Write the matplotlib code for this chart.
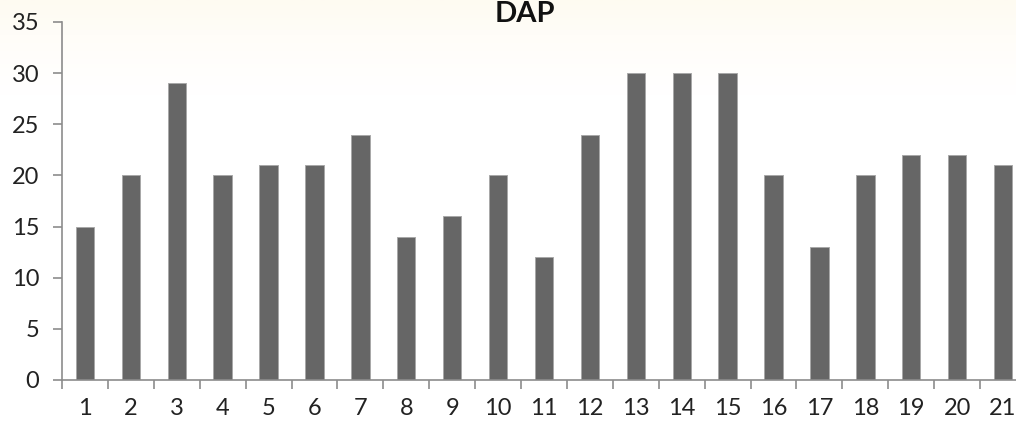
import numpy as np
import matplotlib
matplotlib.use("Agg")
import matplotlib.pyplot as plt
from matplotlib.colors import LinearSegmentedColormap

# DAP per sample
samples = [str(i) for i in range(1, 22)]
dap = [15, 20, 29, 20, 21, 21, 24, 14, 16, 20, 12, 24, 30, 30, 30, 20, 13, 20, 22, 22, 21]
y_ticks = [0, 5, 10, 15, 20, 25, 30, 35]

plt.rcParams['font.family'] = ['Lato', 'DejaVu Sans']

W, H, DPI = 1016, 421, 100
fig = plt.figure(figsize=(W / DPI, H / DPI), dpi=DPI)

# faint warm wash along the top edge
bg = fig.add_axes([0, 0, 1, 1], zorder=-1)
grad = np.linspace(0, 1, 256).reshape(-1, 1)
cmap = LinearSegmentedColormap.from_list(
    "wash", [(0.0, "#fefbf1"), (0.08, "#fffdf8"), (0.22, "#ffffff"), (1.0, "#ffffff")])
bg.imshow(grad, aspect="auto", cmap=cmap, extent=[0, 1, 0, 1], origin="upper")
bg.set_axis_off()

left_px, right_px, top_px, bottom_px = 62, 1026, 22, 380
ax = fig.add_axes([left_px / W, 1 - bottom_px / H,
                   (right_px - left_px) / W, (bottom_px - top_px) / H])
ax.set_facecolor("none")

x = np.arange(len(samples))
ax.bar(x, dap, width=0.4, color="#666666", edgecolor="#a8a8a8", linewidth=0.7, zorder=2)

ax.set_xlim(-0.5, len(samples) - 0.5)
ax.set_ylim(0, 35)

for s in ("top", "right"):
    ax.spines[s].set_visible(False)
for s in ("left", "bottom"):
    ax.spines[s].set_color("#8c8c8c")
    ax.spines[s].set_linewidth(1.2)

ax.set_yticks(y_ticks)
ax.set_yticklabels([str(v) for v in y_ticks])
ax.tick_params(axis="y", direction="out", length=6.5, width=1.2, color="#8c8c8c",
               pad=10, labelsize=17, labelcolor="#222222")

ax.set_xticks(np.arange(-0.5, len(samples), 1.0))
ax.set_xticklabels([])
ax.tick_params(axis="x", which="major", direction="out", length=6.5, width=1.2, color="#8c8c8c")
ax.set_xticks(x, minor=True)
ax.set_xticklabels(samples, minor=True)
ax.tick_params(axis="x", which="minor", length=0, pad=13, labelsize=17, labelcolor="#222222")

fig.text(525 / W, 1 - 22 / H, "DAP", ha="center", va="baseline",
         fontsize=21, fontweight="bold", color="#111111")

fig.savefig("out.png", dpi=DPI)
